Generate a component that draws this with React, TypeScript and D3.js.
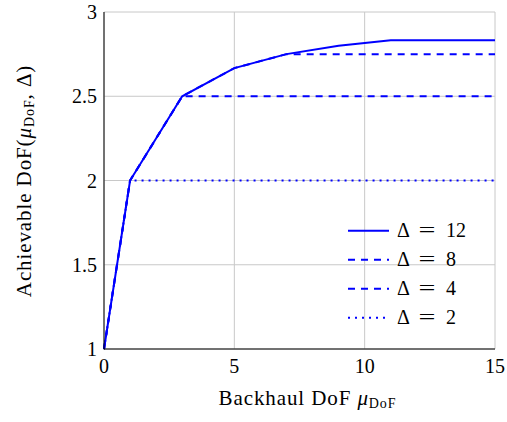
import React from 'react';
import * as d3 from 'd3';

// backhaul DoF points and achievable DoF per Delta
const mu12 = [0, 1, 3, 5, 7, 9, 11, 15];
const dof12 = [1, 2, 2.5, 2.667, 2.75, 2.8, 2.833, 2.833];
const mu8 = [0, 1, 3, 5, 7, 15];
const dof8 = [1, 2, 2.5, 2.667, 2.75, 2.75];
const mu4 = [0, 1, 3, 15];
const dof4 = [1, 2, 2.5, 2.5];
const mu2 = [0, 1, 15];
const dof2 = [1, 2, 2];

const xTicks = [0, 5, 10, 15];
const yTicks = [1, 1.5, 2, 2.5, 3];
const legendLabels = ['12', '8', '4', '2'];

const width = 507;
const height = 422;
const margin = { top: 12, right: 12, bottom: 73, left: 104 };
const font = '"Liberation Serif", serif';

const App = () => {
  const x = d3.scaleLinear().domain([0, 15]).range([margin.left, width - margin.right]);
  const y = d3.scaleLinear().domain([1, 3]).range([height - margin.bottom, margin.top]);
  const line = d3.line<[number, number]>().x(d => x(d[0])).y(d => y(d[1]));

  const series = [
    { mu: mu12, dof: dof12, dash: 'none' },
    { mu: mu8, dof: dof8, dash: '7,6' },
    { mu: mu4, dof: dof4, dash: '7,6' },
    { mu: mu2, dof: dof2, dash: '2,5' },
  ];

  const [x0, x1] = x.range();
  const [y0, y1] = y.range();
  const ts = { fontFamily: font };

  return (
    <svg width={width} height={height} style={{ position: 'absolute', left: 0, top: 0 }}>
      <rect width={width} height={height} fill="white" />
      {/* grid */}
      {xTicks.map(t => (
        <line key={'gx' + t} x1={x(t)} x2={x(t)} y1={y0} y2={y1} stroke="#c8c8c8" strokeWidth={1} />
      ))}
      {yTicks.map(t => (
        <line key={'gy' + t} x1={x0} x2={x1} y1={y(t)} y2={y(t)} stroke="#c8c8c8" strokeWidth={1} />
      ))}
      {/* series */}
      {series.map((s, i) => (
        <path
          key={i}
          d={line(s.mu.map((m, j) => [m, s.dof[j]] as [number, number])) || ''}
          fill="none"
          stroke="#0000ff"
          strokeWidth={2}
          strokeDasharray={s.dash}
        />
      ))}
      {/* axes */}
      <line x1={x0} x2={x0} y1={y0 + 0.5} y2={y1} stroke="black" strokeWidth={1} />
      <line x1={x0} x2={x1} y1={y0} y2={y0} stroke="black" strokeWidth={1} />
      {xTicks.map(t => (
        <text key={'tx' + t} style={ts} x={x(t)} y={373} textAnchor="middle" fontSize={20}>{t}</text>
      ))}
      {yTicks.map(t => (
        <text key={'ty' + t} style={ts} x={97} y={y(t) + 7} textAnchor="end" fontSize={20}>{t}</text>
      ))}
      {/* axis labels */}
      <text style={ts} x={(x0 + x1) / 2 + 8} y={405} textAnchor="middle" fontSize={21} letterSpacing={0.9}>
        Backhaul DoF <tspan fontStyle="italic">μ</tspan>
        <tspan fontSize={14} dy={3}>DoF</tspan>
      </text>
      <text style={ts} transform={`translate(31,${181}) rotate(-90)`} textAnchor="middle" fontSize={21} letterSpacing={0.9}>
        Achievable DoF(<tspan fontStyle="italic">μ</tspan>
        <tspan fontSize={14} dy={3}>DoF</tspan>
        <tspan dy={-3}>, Δ)</tspan>
      </text>
      {/* legend */}
      {series.map((s, i) => {
        const ly = 230.7 + i * 29;
        return (
          <g key={'lg' + i}>
            <line x1={348} x2={389} y1={ly} y2={ly} stroke="#0000ff" strokeWidth={2} strokeDasharray={s.dash} />
            <text style={ts} x={397} y={ly + 6} fontSize={20}>Δ</text>
            <text style={ts} x={427} y={ly + 6} fontSize={20} textAnchor="middle" transform={`translate(427,0) scale(1.5,1) translate(-427,0)`}>=</text>
            <text style={ts} x={446} y={ly + 6} fontSize={20}>{legendLabels[i]}</text>
          </g>
        );
      })}
    </svg>
  );
};

export default App;
